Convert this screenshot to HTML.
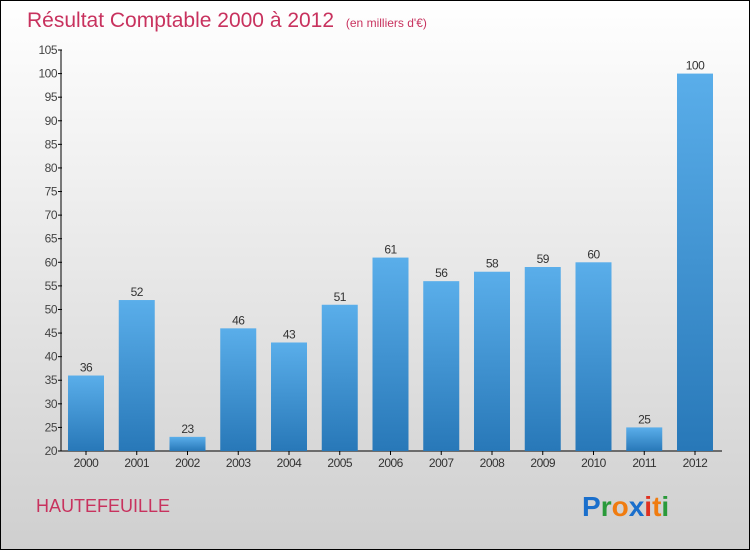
<!DOCTYPE html>
<html><head><meta charset="utf-8"><style>
body{margin:0;width:750px;height:550px;overflow:hidden}
svg{display:block;font-family:"Liberation Sans",sans-serif}
</style></head><body>
<svg id="c" width="750" height="550" viewBox="0 0 750 550">
<defs>
<linearGradient id="bg" x1="0" y1="0" x2="0" y2="1"><stop offset="0" stop-color="#ffffff"/><stop offset="1" stop-color="#cfcfcf"/></linearGradient>
<linearGradient id="bar" x1="0" y1="0" x2="0" y2="1"><stop offset="0" stop-color="#5aaeea"/><stop offset="1" stop-color="#2878b8"/></linearGradient>
</defs>
<rect x="0.5" y="0.5" width="749" height="549" fill="url(#bg)" stroke="#000"/>
<text x="27" y="27" font-size="21" fill="#c8325e">Résultat Comptable 2000 à 2012 <tspan font-size="12" dx="6">(en milliers d'€)</tspan></text>
<g id="axes"></g><g id="bars"></g>
<text x="36" y="512" font-size="18" fill="#c8325e">HAUTEFEUILLE</text>
<g font-size="28" font-weight="bold">
<text x="582" y="516"><tspan fill="#1a6fcc">P</tspan><tspan fill="#2a9a3a">r</tspan><tspan fill="#f07c10">o</tspan><tspan fill="#1a6fcc">x</tspan><tspan fill="#e03020">i</tspan><tspan fill="#f07c10">t</tspan><tspan fill="#2a9a3a">i</tspan></text>
</g>
</svg>
<script>
const categories=["2000","2001","2002","2003","2004","2005","2006","2007","2008","2009","2010","2011","2012"];
const values=[36,52,23,46,43,51,61,56,58,59,60,25,100];
const yTicks=[20,25,30,35,40,45,50,55,60,65,70,75,80,85,90,95,100,105];
const NS="http://www.w3.org/2000/svg";
const y0=451,y1=50,vmin=20,vmax=105,x0=86,step=50.75,bw=36;
const y=v=>y0-(v-vmin)/(vmax-vmin)*(y0-y1);
const x=i=>x0+i*step;
function el(t,a,p,txt){const e=document.createElementNS(NS,t);for(const k in a)e.setAttribute(k,a[k]);if(txt!==undefined)e.textContent=txt;p.appendChild(e);return e;}
const ax=document.getElementById('axes'),bg=document.getElementById('bars');
const yl=el('line',{x1:61,y1:y1,x2:61,y2:y0,stroke:'#000'},ax);


const xl=el('line',{x1:61,y1:y0,x2:722,y2:y0,stroke:'#000'},ax);


yTicks.forEach(v=>{
 el('line',{x1:58,x2:62,y1:y(v),y2:y(v),stroke:'#000'},ax);
 const t=el('text',{x:57,y:y(v)+4,'font-size':12,'text-anchor':'end',fill:'#444','letter-spacing':'-0.5'},ax,v);
 
 
});
categories.forEach((c,i)=>{
 const r=el('rect',{x:x(i)-bw/2,y:y(values[i]),width:bw,height:y0-y(values[i]),fill:'url(#bar)'},bg);
 
 
 const l=el('text',{x:x(i),y:y(values[i])-4,'font-size':12,'text-anchor':'middle',fill:'#333','letter-spacing':'-0.5'},bg,values[i]);
 
 
 el('line',{x1:x(i),x2:x(i),y1:y0,y2:y0+4,stroke:'#000'},ax);
 const xt=el('text',{x:x(i),y:y0+16,'font-size':12,'text-anchor':'middle',fill:'#333','letter-spacing':'-0.5'},ax,c);
 
 
});
</script>
</body></html>
